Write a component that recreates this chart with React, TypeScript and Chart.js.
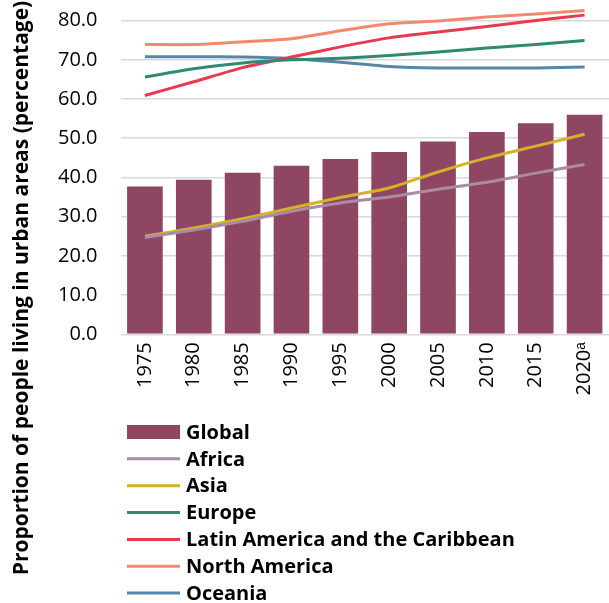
import React, { useEffect, useRef } from "react";
import { Chart, registerables } from "chart.js";

Chart.register(...registerables);

const years = ["1975", "1980", "1985", "1990", "1995", "2000", "2005", "2010", "2015", "2020ᵃ"];
const globalValues = [37.7, 39.4, 41.2, 43.0, 44.7, 46.5, 49.2, 51.6, 53.8, 56.0];
const africa = [24.7, 26.6, 28.8, 31.4, 33.5, 35.0, 37.0, 38.8, 41.1, 43.3];
const asia = [25.0, 27.1, 29.5, 32.2, 34.9, 37.3, 41.4, 45.0, 48.0, 51.0];
const europe = [65.6, 67.7, 69.2, 70.0, 70.4, 71.1, 72.0, 73.0, 73.9, 74.9];
const latinAmerica = [60.9, 64.4, 68.0, 70.7, 73.3, 75.6, 77.1, 78.5, 80.0, 81.4];
const northAmerica = [73.9, 73.9, 74.6, 75.4, 77.4, 79.2, 79.9, 80.9, 81.7, 82.6];
const oceania = [70.8, 70.8, 70.7, 70.3, 69.4, 68.3, 67.9, 67.9, 67.9, 68.2];

const yTitle = "Proportion of people living in urban areas (percentage)";
const FONT = "'Open Sans', sans-serif";

export default function App() {
  const ref = useRef<HTMLCanvasElement | null>(null);

  useEffect(() => {
    document.body.style.margin = "0";
    const canvas = ref.current;
    if (!canvas) return;

    const line = (label: string, data: number[], color: string) => ({
      type: "line" as const,
      label,
      data,
      borderColor: color,
      backgroundColor: color,
      borderWidth: 3,
      pointRadius: 0,
      tension: 0.2,
      fill: false,
      order: 0,
    });

    const legendPlugin = {
      id: "customLegend",
      afterDraw(chart: any) {
        const ctx = chart.ctx as CanvasRenderingContext2D;
        ctx.save();
        // y title
        ctx.save();
        ctx.translate(22, 288);
        ctx.rotate(-Math.PI / 2);
        ctx.font = `bold 21px ${FONT}`;
        ctx.fillStyle = "#000";
        ctx.textAlign = "center";
        ctx.textBaseline = "middle";
        ctx.fillText(yTitle, 0, 0);
        ctx.restore();
        // legend
        chart.data.datasets.forEach((ds: any, i: number) => {
          const y = 432 + i * 26.85;
          if (ds.type === "bar") {
            ctx.fillStyle = ds.backgroundColor;
            ctx.fillRect(127, y - 7, 53, 14);
          } else {
            ctx.strokeStyle = ds.borderColor;
            ctx.lineWidth = 3;
            ctx.beginPath();
            ctx.moveTo(127, y);
            ctx.lineTo(180, y);
            ctx.stroke();
          }
          ctx.fillStyle = "#000";
          ctx.font = `bold 20px ${FONT}`;
          ctx.textAlign = "left";
          ctx.textBaseline = "middle";
          ctx.fillText(ds.label, 186, y + 1);
        });
        ctx.restore();
      },
    };

    const chart = new Chart(canvas, {
      data: {
        labels: years,
        datasets: [
          {
            type: "bar" as const,
            label: "Global",
            data: globalValues,
            backgroundColor: "#8E4662",
            borderWidth: 0,
            barPercentage: 0.73,
            categoryPercentage: 1,
            order: 1,
          },
          line("Africa", africa, "#A98BA3"),
          line("Asia", asia, "#D5B12A"),
          line("Europe", europe, "#2E8B72"),
          line("Latin America and the Caribbean", latinAmerica, "#E8394F"),
          line("North America", northAmerica, "#F3896C"),
          line("Oceania", oceania, "#5A86A6"),
        ] as any,
      },
      options: {
        animation: false,
        responsive: true,
        maintainAspectRatio: false,
        layout: { padding: { top: 1, right: 0, left: 0, bottom: 0 } },
        plugins: {
          legend: { display: false },
          tooltip: { enabled: false },
        },
        scales: {
          x: {
            type: "category",
            offset: true,
            grid: { display: false, drawTicks: false },
            border: { display: false },
            ticks: {
              minRotation: 90,
              maxRotation: 90,
              padding: 8,
              color: "#000",
              font: { family: FONT, size: 20 },
            },
            afterFit(scale: any) {
              scale.height = 268.7;
              scale.paddingLeft = 0;
              scale.paddingRight = 0;
              scale.paddingTop = 0;
              scale.paddingBottom = 0;
            },
          },
          y: {
            min: 0,
            max: 85,
            ticks: {
              stepSize: 10,
              includeBounds: false,
              padding: 23,
              color: "#000",
              font: { family: FONT, size: 20 },
              callback: (v: any) => Number(v).toFixed(1),
            },
            afterFit(scale: any) {
              scale.width = 120.5;
              scale.paddingLeft = 0;
              scale.paddingRight = 0;
              scale.paddingTop = 0;
              scale.paddingBottom = 0;
            },
            grid: { color: "#D9D9D9", lineWidth: 1.5, drawTicks: false },
            border: { display: false },
          },
        },
      } as any,
      plugins: [legendPlugin],
    });

    return () => chart.destroy();
  }, []);

  return (
    <div style={{ position: "relative", width: 609, height: 603 }}>
      <canvas ref={ref} />
    </div>
  );
}
